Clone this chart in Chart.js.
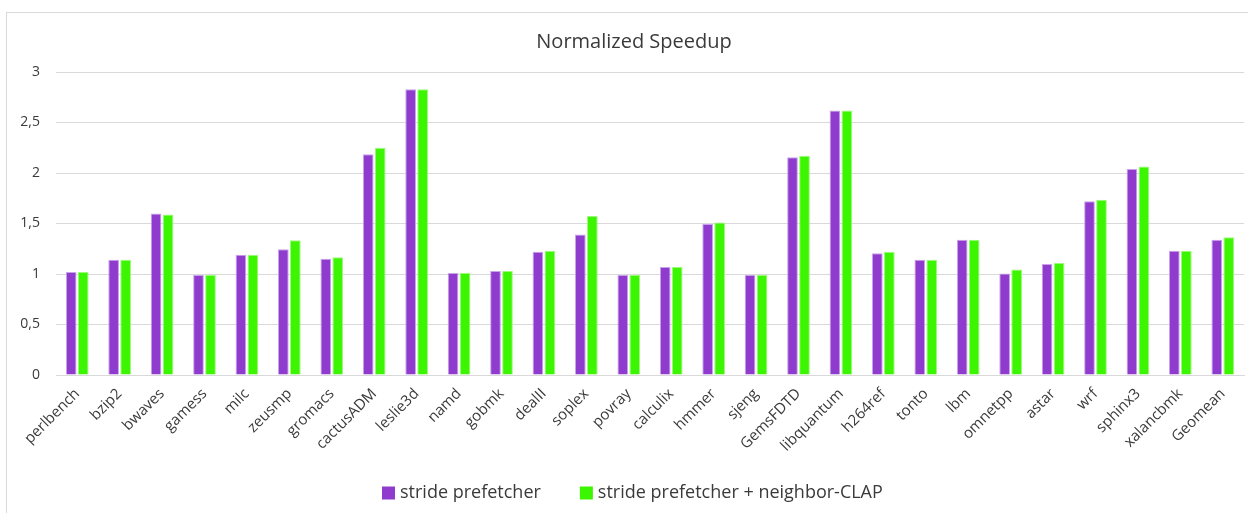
<!DOCTYPE html>
<html>
<head>
<meta charset="utf-8">
<script src="https://cdn.jsdelivr.net/npm/chart.js@4/dist/chart.umd.min.js"></script>
<style>
  html, body { margin: 0; padding: 0; background: #ffffff; width: 1248px; height: 513px; overflow: hidden; }
  #frame { position: absolute; left: 6px; top: 12px; width: 1300px; height: 600px; border: 1px solid #d9d9d9; box-sizing: border-box; }
  #wrap { position: absolute; left: 0; top: 0; width: 1248px; height: 513px; }
</style>
</head>
<body>
<div id="frame"></div>
<div id="wrap"><canvas id="c" width="1248" height="513"></canvas></div>
<script>
const chartTitle = 'Normalized Speedup';
const categories = ['perlbench','bzip2','bwaves','gamess','milc','zeusmp','gromacs','cactusADM','leslie3d','namd','gobmk','dealII','soplex','povray','calculix','hmmer','sjeng','GemsFDTD','libquantum','h264ref','tonto','lbm','omnetpp','astar','wrf','sphinx3','xalancbmk','Geomean'];
const seriesNames = ['stride prefetcher', 'stride prefetcher + neighbor-CLAP'];
const strideValues = [1.02,1.14,1.60,0.99,1.19,1.245,1.15,2.185,2.83,1.01,1.03,1.22,1.39,0.99,1.07,1.495,0.99,2.155,2.62,1.205,1.14,1.34,1.005,1.10,1.72,2.04,1.23,1.34];
const clapValues   = [1.02,1.14,1.59,0.99,1.19,1.335,1.165,2.25,2.83,1.01,1.03,1.23,1.575,0.99,1.07,1.51,0.99,2.17,2.62,1.22,1.14,1.34,1.045,1.11,1.735,2.065,1.23,1.365];
const yTicks = [0, 0.5, 1, 1.5, 2, 2.5, 3];

const FONT = "'Open Sans', 'Noto Sans', sans-serif";
const TEXT = '#3a3a3a';
const seriesColors = ['#8E3BCE', '#3CF500'];
const seriesBorders = ['#C9A3EA', '#9DF97A'];

const titlePlugin = {
  id: 'titlePlugin',
  afterDraw(chart) {
    const ctx = chart.ctx;
    ctx.save();
    ctx.font = '20px ' + FONT;
    ctx.fillStyle = TEXT;
    ctx.textAlign = 'center';
    ctx.textBaseline = 'alphabetic';
    ctx.fillText(chartTitle, 634, 48);
    ctx.restore();
  }
};

const legendPlugin = {
  id: 'legendPlugin',
  afterDraw(chart) {
    const ctx = chart.ctx;
    ctx.save();
    ctx.font = '18px ' + FONT;
    const box = 13, gap = 5, itemGap = 39;
    const widths = seriesNames.map(n => ctx.measureText(n).width);
    let x = 382;
    const yMid = 493;
    chart.data.datasets.forEach((ds, i) => {
      ctx.fillStyle = ds.backgroundColor;
      ctx.fillRect(x, yMid - box / 2, box, box);
      ctx.fillStyle = TEXT;
      ctx.textAlign = 'left';
      ctx.textBaseline = 'middle';
      ctx.fillText(seriesNames[i], x + box + gap, yMid);
      x += box + gap + widths[i] + itemGap;
    });
    ctx.restore();
  }
};

new Chart(document.getElementById('c'), {
  type: 'bar',
  data: {
    labels: categories,
    datasets: [
      { label: seriesNames[0], data: strideValues, backgroundColor: seriesColors[0], borderColor: seriesBorders[0], borderWidth: 1 },
      { label: seriesNames[1], data: clapValues, backgroundColor: seriesColors[1], borderColor: seriesBorders[1], borderWidth: 1 }
    ]
  },
  options: {
    responsive: false,
    animation: false,
    devicePixelRatio: 1,
    layout: { padding: { left: 0, right: 4, top: 72, bottom: 0 } },
    datasets: { bar: { categoryPercentage: 0.566, barPercentage: 0.89 } },
    plugins: {
      legend: { display: false },
      title: { display: false },
      tooltip: { enabled: false }
    },
    scales: {
      x: {
        grid: { display: false, drawTicks: false },
        border: { display: true, color: '#d9d9d9', width: 1 },
        ticks: {
          color: TEXT,
          font: { family: FONT, size: 15 },
          minRotation: 45,
          maxRotation: 45,
          autoSkip: false,
          padding: 10
        },
        afterFit(scale) { scale.height = 138; }
      },
      y: {
        min: 0,
        max: 3,
        afterBuildTicks(scale) { scale.ticks = yTicks.map(v => ({ value: v })); },
        grid: { color: '#d9d9d9', lineWidth: 1, drawTicks: false },
        border: { display: false },
        ticks: {
          color: TEXT,
          font: { family: FONT, size: 14 },
          padding: 16,
          callback: v => String(v).replace('.', ',')
        },
        afterFit(scale) { scale.width = 56; }
      }
    }
  },
  plugins: [titlePlugin, legendPlugin]
});
</script>
</body>
</html>
